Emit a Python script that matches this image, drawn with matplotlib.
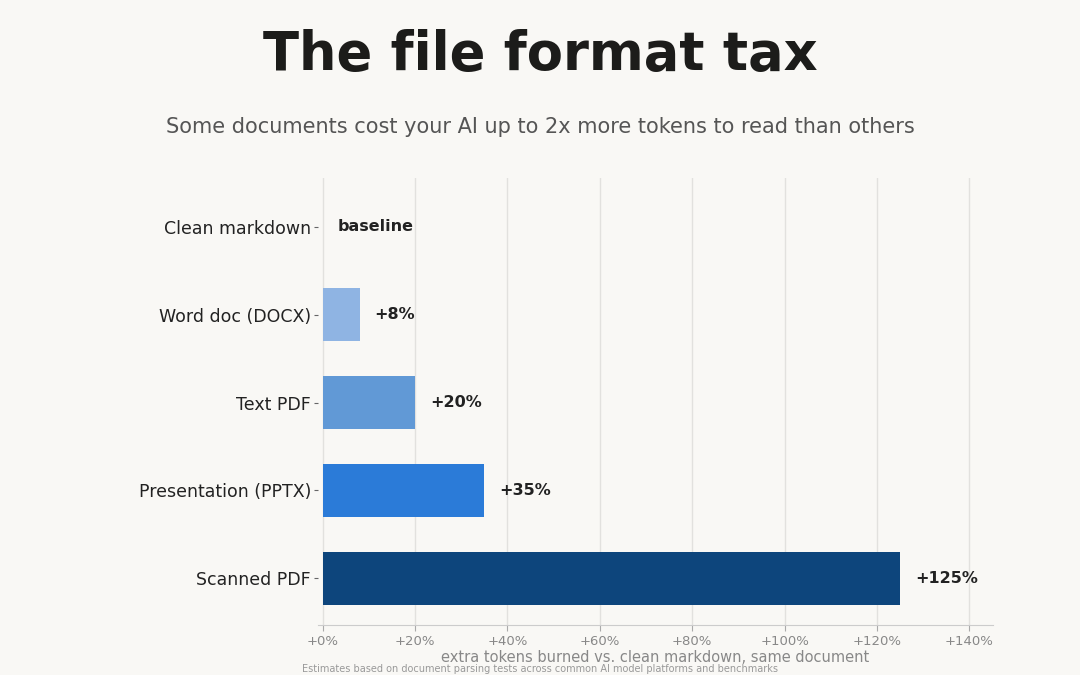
"""The file format tax: extra tokens per document format."""

import os

import matplotlib
import matplotlib.pyplot as plt
from matplotlib import font_manager

ttf_dir = os.path.join(matplotlib.get_data_path(), "fonts", "ttf")
for name in ["DejaVuSans.ttf", "DejaVuSans-Bold.ttf"]:
    path = os.path.join(ttf_dir, name)
    if os.path.exists(path):
        font_manager.fontManager.addfont(path)
plt.rcParams["font.family"] = ["DejaVu Sans"]

categories = [
    "Clean markdown",
    "Word doc (DOCX)",
    "Text PDF",
    "Presentation (PPTX)",
    "Scanned PDF",
]
extra_pct = [0, 8, 20, 35, 125]
value_labels = ["baseline", "+8%", "+20%", "+35%", "+125%"]
bar_colors = ["#d6e3f3", "#8fb4e3", "#6199d6", "#2b7bd8", "#0d457c"]
x_ticks = [0, 20, 40, 60, 80, 100, 120, 140]

BG = "#f9f8f5"

fig = plt.figure(figsize=(10.8, 6.75), dpi=100, facecolor=BG)
ax = fig.add_axes([0.2945, 0.074, 0.6245, 0.662], facecolor=BG)

y_pos = range(len(categories))
ax.barh(list(y_pos), extra_pct, height=0.6, color=bar_colors, zorder=3)

for y, val, label in zip(y_pos, extra_pct, value_labels):
    ax.text(val + 3.2, y, label, va="center", ha="left",
            fontsize=11.5, fontweight="bold", color="#222222", zorder=4)

ax.set_yticks(list(y_pos))
ax.set_yticklabels(categories, fontsize=12.5, color="#222222")
ax.set_ylim(4.53, -0.55)

ax.set_xlim(-1, 145)
ax.set_xticks(x_ticks)
ax.set_xticklabels([f"+{t}%" for t in x_ticks], fontsize=9.5, color="#888888")
ax.set_xlabel("extra tokens burned vs. clean markdown, same document",
              fontsize=10.5, color="#888888", labelpad=1)

ax.grid(axis="x", color="#e2e1de", linewidth=1, zorder=0)
for side in ["top", "right", "left"]:
    ax.spines[side].set_visible(False)
ax.spines["bottom"].set_color("#cccccc")
ax.tick_params(axis="x", colors="#aaaaaa", length=4, labelcolor="#888888")
ax.tick_params(axis="y", colors="#666666", length=3, pad=2, labelcolor="#222222")

fig.text(0.5, 0.918, "The file format tax", ha="center", va="center",
         fontsize=38, fontweight="bold", color="#1c1c1a")
fig.text(0.5, 0.812, "Some documents cost your AI up to 2x more tokens to read than others",
         ha="center", va="center", fontsize=15, color="#555555")
fig.text(0.5, 0.001,
         "Estimates based on document parsing tests across common AI model platforms and benchmarks",
         ha="center", va="bottom", fontsize=7, color="#999999")

fig.savefig("out.png", dpi=100, facecolor=BG)
